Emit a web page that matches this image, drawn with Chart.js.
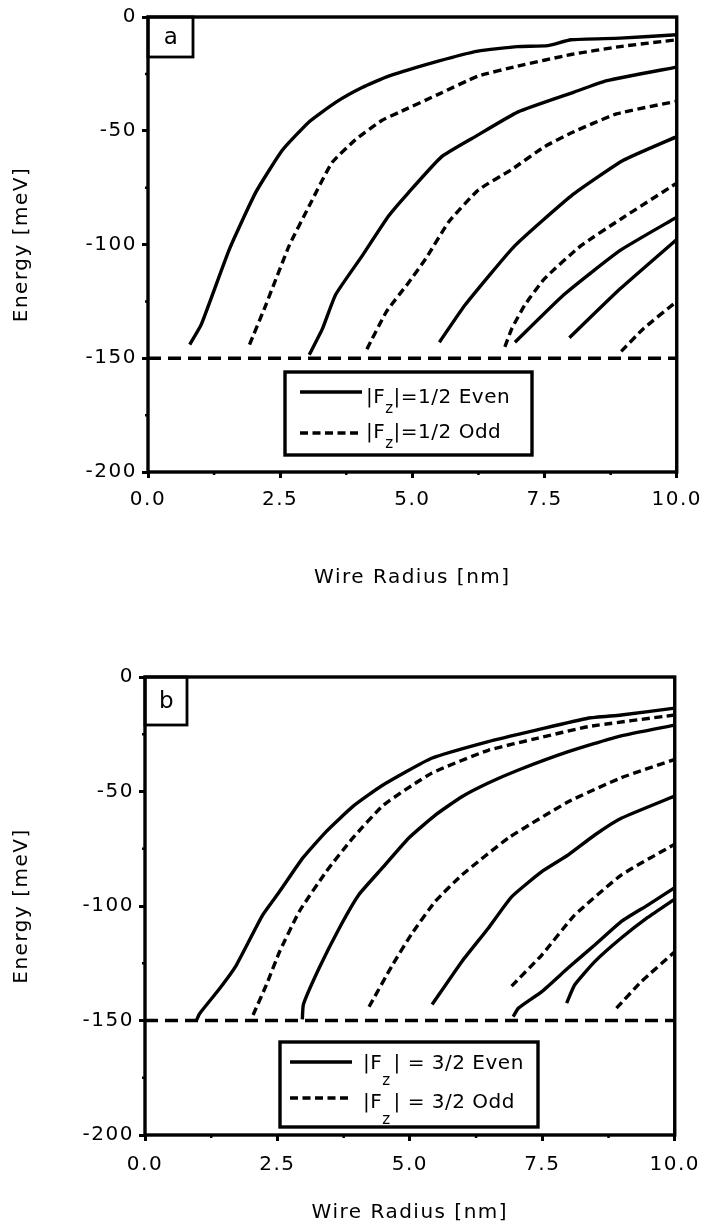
<!DOCTYPE html>
<html>
<head>
<meta charset="utf-8">
<title>Subband energies vs wire radius</title>
<script src="https://cdn.jsdelivr.net/npm/chart.js@4.4.0/dist/chart.umd.min.js"></script>
<style>
  body { margin: 0; background: #fff; }
  canvas { position: absolute; left: 0; }
  #panelA { top: 0; }
  #panelB { top: 600px; }
</style>
</head>
<body>
<canvas id="panelA" width="709" height="600"></canvas>
<canvas id="panelB" width="709" height="629"></canvas>
<script>
// Shared axes
const radiusTicks = [0, 2.5, 5, 7.5, 10];
const energyTicks = [-200, -150, -100, -50, 0];
const edgeR = [0, 10];
const edgeE = [-150, -150];

// Panel a: |Fz| = 1/2
const aEven1R = [0.79, 1.01, 1.54, 2.04, 2.54, 3.05, 3.55, 4.05, 4.55, 5.49, 6.24, 6.99, 7.56, 8.0, 8.93, 10.0];
const aEven1E = [-144, -135, -102, -77, -58.6, -46, -37.5, -31, -26, -19.4, -15, -13, -12.6, -10, -9.3, -7.8];
const aOdd1R = [1.92, 2.23, 2.67, 3.05, 3.48, 3.92, 4.42, 4.74, 5.49, 6.24, 6.99, 8.0, 8.93, 10.0];
const aOdd1E = [-144, -126.5, -100.5, -83, -64, -54, -45.5, -42, -34, -26, -21.6, -16.5, -13, -10];
const aEven2R = [3.05, 3.3, 3.55, 4.05, 4.55, 4.92, 5.55, 6.18, 7.0, 8.06, 8.68, 10.0];
const aEven2E = [-148.5, -137, -122, -105, -87.5, -77.4, -61.5, -52.7, -41.7, -33, -28, -22];
const aOdd2R = [4.14, 4.51, 4.92, 5.26, 5.69, 6.25, 6.88, 7.5, 8.0, 8.86, 10.0];
const aOdd2E = [-146, -129.5, -117, -106, -90, -76, -67, -57, -51, -42.6, -37];
const aEven3R = [5.51, 6.0, 6.94, 8.0, 8.99, 10.0];
const aEven3E = [-143, -126.5, -100.5, -78.7, -63, -52.6];
const aOdd3R = [6.75, 6.88, 7.13, 7.5, 8.19, 8.93, 10.0];
const aOdd3E = [-145, -137, -126.5, -115, -100.5, -89, -73];
const aEven4R = [6.94, 7.87, 8.93, 10.0];
const aEven4E = [-143, -122, -102.6, -88];
const aEven5R = [7.97, 8.93, 10.0];
const aEven5E = [-141, -119.5, -97.8];
const aOdd4R = [8.95, 9.37, 10.0];
const aOdd4E = [-147, -137, -125];

// Panel b: |Fz| = 3/2
const bEven1R = [0.97, 1.03, 1.41, 1.72, 2.22, 2.54, 2.98, 3.42, 3.92, 4.47, 5.41, 6.48, 7.42, 8.36, 8.99, 10.0];
const bEven1E = [-150, -147, -136, -126, -104, -93.7, -79, -67.5, -56.6, -47.5, -35.5, -28.2, -23, -18, -16.6, -13.6];
const bOdd1R = [2.04, 2.29, 2.54, 2.91, 3.42, 3.92, 4.5, 5.41, 6.48, 7.42, 8.36, 10.0];
const bOdd1E = [-147.6, -134.5, -120, -102.5, -85, -70.4, -56, -42, -32, -26.7, -21.7, -16.6];
const bEven2R = [2.97, 2.99, 3.29, 3.67, 4.04, 4.48, 4.98, 5.48, 5.98, 6.48, 7.05, 7.99, 8.93, 10.0];
const bEven2E = [-149.5, -143, -127, -109.6, -95, -83.4, -70.3, -60.3, -52.3, -46.3, -40.6, -32.6, -26, -21];
const bOdd2R = [4.23, 4.67, 5.04, 5.48, 5.98, 6.86, 7.99, 8.99, 10.0];
const bOdd2E = [-144, -125.8, -112, -98, -86.5, -70.3, -54.5, -44, -36];
const bEven3R = [5.42, 5.98, 6.48, 6.92, 7.49, 7.99, 8.49, 8.99, 10.0];
const bEven3E = [-143, -124.3, -109.7, -96, -85, -77.7, -69, -61.7, -52];
const bOdd3R = [6.92, 7.49, 8.11, 8.99, 10.0];
const bOdd3E = [-135, -121.4, -104, -86.5, -73];
const bEven4R = [6.95, 7.05, 7.49, 7.99, 8.49, 8.99, 9.49, 10.0];
const bEven4E = [-148.3, -144.6, -137.4, -127, -117, -106.8, -99.6, -92];
const bEven5R = [7.96, 8.11, 8.49, 8.99, 9.49, 10.0];
const bEven5E = [-142.4, -134.5, -124.3, -114, -105, -97];
const bOdd4R = [8.9, 9.37, 10.0];
const bOdd4E = [-144.6, -133, -120];

const fontFamily = '"DejaVu Sans", sans-serif';
const oddDash = [8, 4.5];
const edgeDash = [13, 7];
Chart.defaults.font.family = fontFamily;
Chart.defaults.color = '#000';

function curve(r, e, dashed) {
    return {
        data: r.map((x, i) => ({ x, y: e[i] })),
        borderColor: '#000',
        borderWidth: 3.4,
        borderDash: dashed ? oddDash : [],
        pointRadius: 0,
        tension: 0.15,
        fill: false
    };
}

// Frame, minor ticks, panel letter and the |Fz| key
const panelDecor = {
    id: 'panelDecor',
    beforeDraw(chart) {
        chart.ctx.letterSpacing = '1.5px';
    },
    afterDraw(chart, args, opts) {
        if (!opts || !opts.key) return;
        const { ctx, chartArea: ca } = chart;
        const xs = chart.scales.x, ys = chart.scales.y;
        ctx.save();
        ctx.strokeStyle = '#000';
        ctx.fillStyle = '#000';
        ctx.setLineDash([]);
        ctx.lineWidth = 3.4;
        ctx.strokeRect(ca.left, ca.top, ca.right - ca.left, ca.bottom - ca.top);

        ctx.lineWidth = 2.5;
        ctx.beginPath();
        for (let i = 0; i < radiusTicks.length - 1; i++) {
            const px = xs.getPixelForValue((radiusTicks[i] + radiusTicks[i + 1]) / 2);
            ctx.moveTo(px, ca.bottom);
            ctx.lineTo(px, ca.bottom + 3);
        }
        for (let i = 0; i < energyTicks.length - 1; i++) {
            const py = ys.getPixelForValue((energyTicks[i] + energyTicks[i + 1]) / 2);
            ctx.moveTo(ca.left, py);
            ctx.lineTo(ca.left - 3, py);
        }
        ctx.stroke();

        // panel letter box
        const lb = opts.letterBox;
        ctx.lineWidth = 2.8;
        ctx.strokeRect(ca.left, ca.top, lb.w, lb.h);
        ctx.font = '23px ' + fontFamily;
        ctx.textAlign = 'center';
        ctx.textBaseline = 'middle';
        ctx.fillText(opts.letter, ca.left + lb.w / 2 + 1, ca.top + lb.h / 2 + 1);

        // key
        const k = opts.key;
        ctx.letterSpacing = '0.5px';
        ctx.lineWidth = 3.4;
        ctx.fillStyle = '#fff';
        ctx.fillRect(k.box[0], k.box[1], k.box[2] - k.box[0], k.box[3] - k.box[1]);
        ctx.fillStyle = '#000';
        ctx.strokeRect(k.box[0], k.box[1], k.box[2] - k.box[0], k.box[3] - k.box[1]);
        ctx.textAlign = 'left';
        ctx.textBaseline = 'alphabetic';
        k.rows.forEach(row => {
            ctx.setLineDash(row.dashed ? oddDash : []);
            ctx.lineWidth = 3.4;
            ctx.beginPath();
            ctx.moveTo(k.lineX[0], row.lineY);
            ctx.lineTo(k.lineX[1], row.lineY);
            ctx.stroke();
            ctx.setLineDash([]);

            let tx = k.textX;
            ctx.font = '20px ' + fontFamily;
            ctx.fillText('|F', tx, row.base);
            tx += ctx.measureText('|F').width;
            ctx.font = '15px ' + fontFamily;
            ctx.fillText('z', tx, row.base + k.zDrop);
            tx += ctx.measureText('z').width + k.zGap;
            ctx.font = '20px ' + fontFamily;
            ctx.fillText(row.label, tx, row.base);
        });
        ctx.restore();
    }
};
Chart.register(panelDecor);

function makeOptions(lay, decor) {
    return {
        responsive: false,
        animation: false,
        layout: { padding: { left: 0, top: lay.top, right: lay.right, bottom: 0 } },
        plugins: {
            legend: { display: false },
            tooltip: { enabled: false },
            panelDecor: decor
        },
        scales: {
            x: {
                type: 'linear',
                min: 0,
                max: 10,
                afterFit: s => { s.height = lay.xAxisH; },
                afterBuildTicks: s => { s.ticks = radiusTicks.map(v => ({ value: v })); },
                border: { display: false },
                grid: { drawOnChartArea: false, drawTicks: true, tickLength: 6, tickWidth: 3, tickColor: '#000' },
                ticks: { padding: lay.xPad, font: { size: 20 }, color: '#000', maxRotation: 0, autoSkip: false,
                         callback: v => Number(v).toFixed(1) },
                title: { display: true, text: 'Wire Radius [nm]', font: { size: 20 }, color: '#000',
                         padding: { top: 0, bottom: lay.xTitlePad } }
            },
            y: {
                type: 'linear',
                min: -200,
                max: 0,
                afterFit: s => { s.width = lay.yAxisW; },
                afterBuildTicks: s => { s.ticks = energyTicks.map(v => ({ value: v })); },
                border: { display: false },
                grid: { drawOnChartArea: false, drawTicks: true, tickLength: 6, tickWidth: 3, tickColor: '#000' },
                ticks: { padding: 5, font: { size: 20 }, color: '#000', autoSkip: false,
                         callback: v => String(v) },
                title: { display: true, text: 'Energy [meV]', font: { size: 20 }, color: '#000',
                         padding: { top: 10, bottom: 0 } }
            }
        }
    };
}

new Chart(document.getElementById('panelA'), {
    type: 'line',
    data: {
        datasets: [
            curve(edgeR, edgeE, false),
            curve(aEven1R, aEven1E, false),
            curve(aOdd1R, aOdd1E, true),
            curve(aEven2R, aEven2E, false),
            curve(aOdd2R, aOdd2E, true),
            curve(aEven3R, aEven3E, false),
            curve(aOdd3R, aOdd3E, true),
            curve(aEven4R, aEven4E, false),
            curve(aEven5R, aEven5E, false),
            curve(aOdd4R, aOdd4E, true)
        ].map((d, i) => i === 0 ? Object.assign(d, { borderDash: edgeDash, tension: 0 }) : d)
    },
    options: makeOptions(
        { top: 12, right: 26, xAxisH: 128, yAxisW: 148, xPad: 10, xTitlePad: 10 },
        {
            letter: 'a',
            letterBox: { w: 45, h: 40 },
            key: {
                box: [285, 372, 532, 455],
                lineX: [300, 362],
                textX: 366,
                zDrop: 10,
                zGap: 0,
                rows: [
                    { lineY: 392, base: 403, dashed: false, label: '|=1/2 Even' },
                    { lineY: 433, base: 438, dashed: true, label: '|=1/2 Odd' }
                ]
            }
        })
});

new Chart(document.getElementById('panelB'), {
    type: 'line',
    data: {
        datasets: [
            curve(edgeR, edgeE, false),
            curve(bEven1R, bEven1E, false),
            curve(bOdd1R, bOdd1E, true),
            curve(bEven2R, bEven2E, false),
            curve(bOdd2R, bOdd2E, true),
            curve(bEven3R, bEven3E, false),
            curve(bOdd3R, bOdd3E, true),
            curve(bEven4R, bEven4E, false),
            curve(bEven5R, bEven5E, false),
            curve(bOdd4R, bOdd4E, true)
        ].map((d, i) => i === 0 ? Object.assign(d, { borderDash: edgeDash, tension: 0 }) : d)
    },
    options: makeOptions(
        { top: 77, right: 32, xAxisH: 94, yAxisW: 145, xPad: 12, xTitlePad: 4 },
        {
            letter: 'b',
            letterBox: { w: 42, h: 48 },
            key: {
                box: [280, 442, 538, 527],
                lineX: [290, 352],
                textX: 363,
                zDrop: 16,
                zGap: 3,
                rows: [
                    { lineY: 462, base: 469, dashed: false, label: '| = 3/2 Even' },
                    { lineY: 498, base: 508, dashed: true, label: '| = 3/2 Odd' }
                ]
            }
        })
});
</script>
</body>
</html>
